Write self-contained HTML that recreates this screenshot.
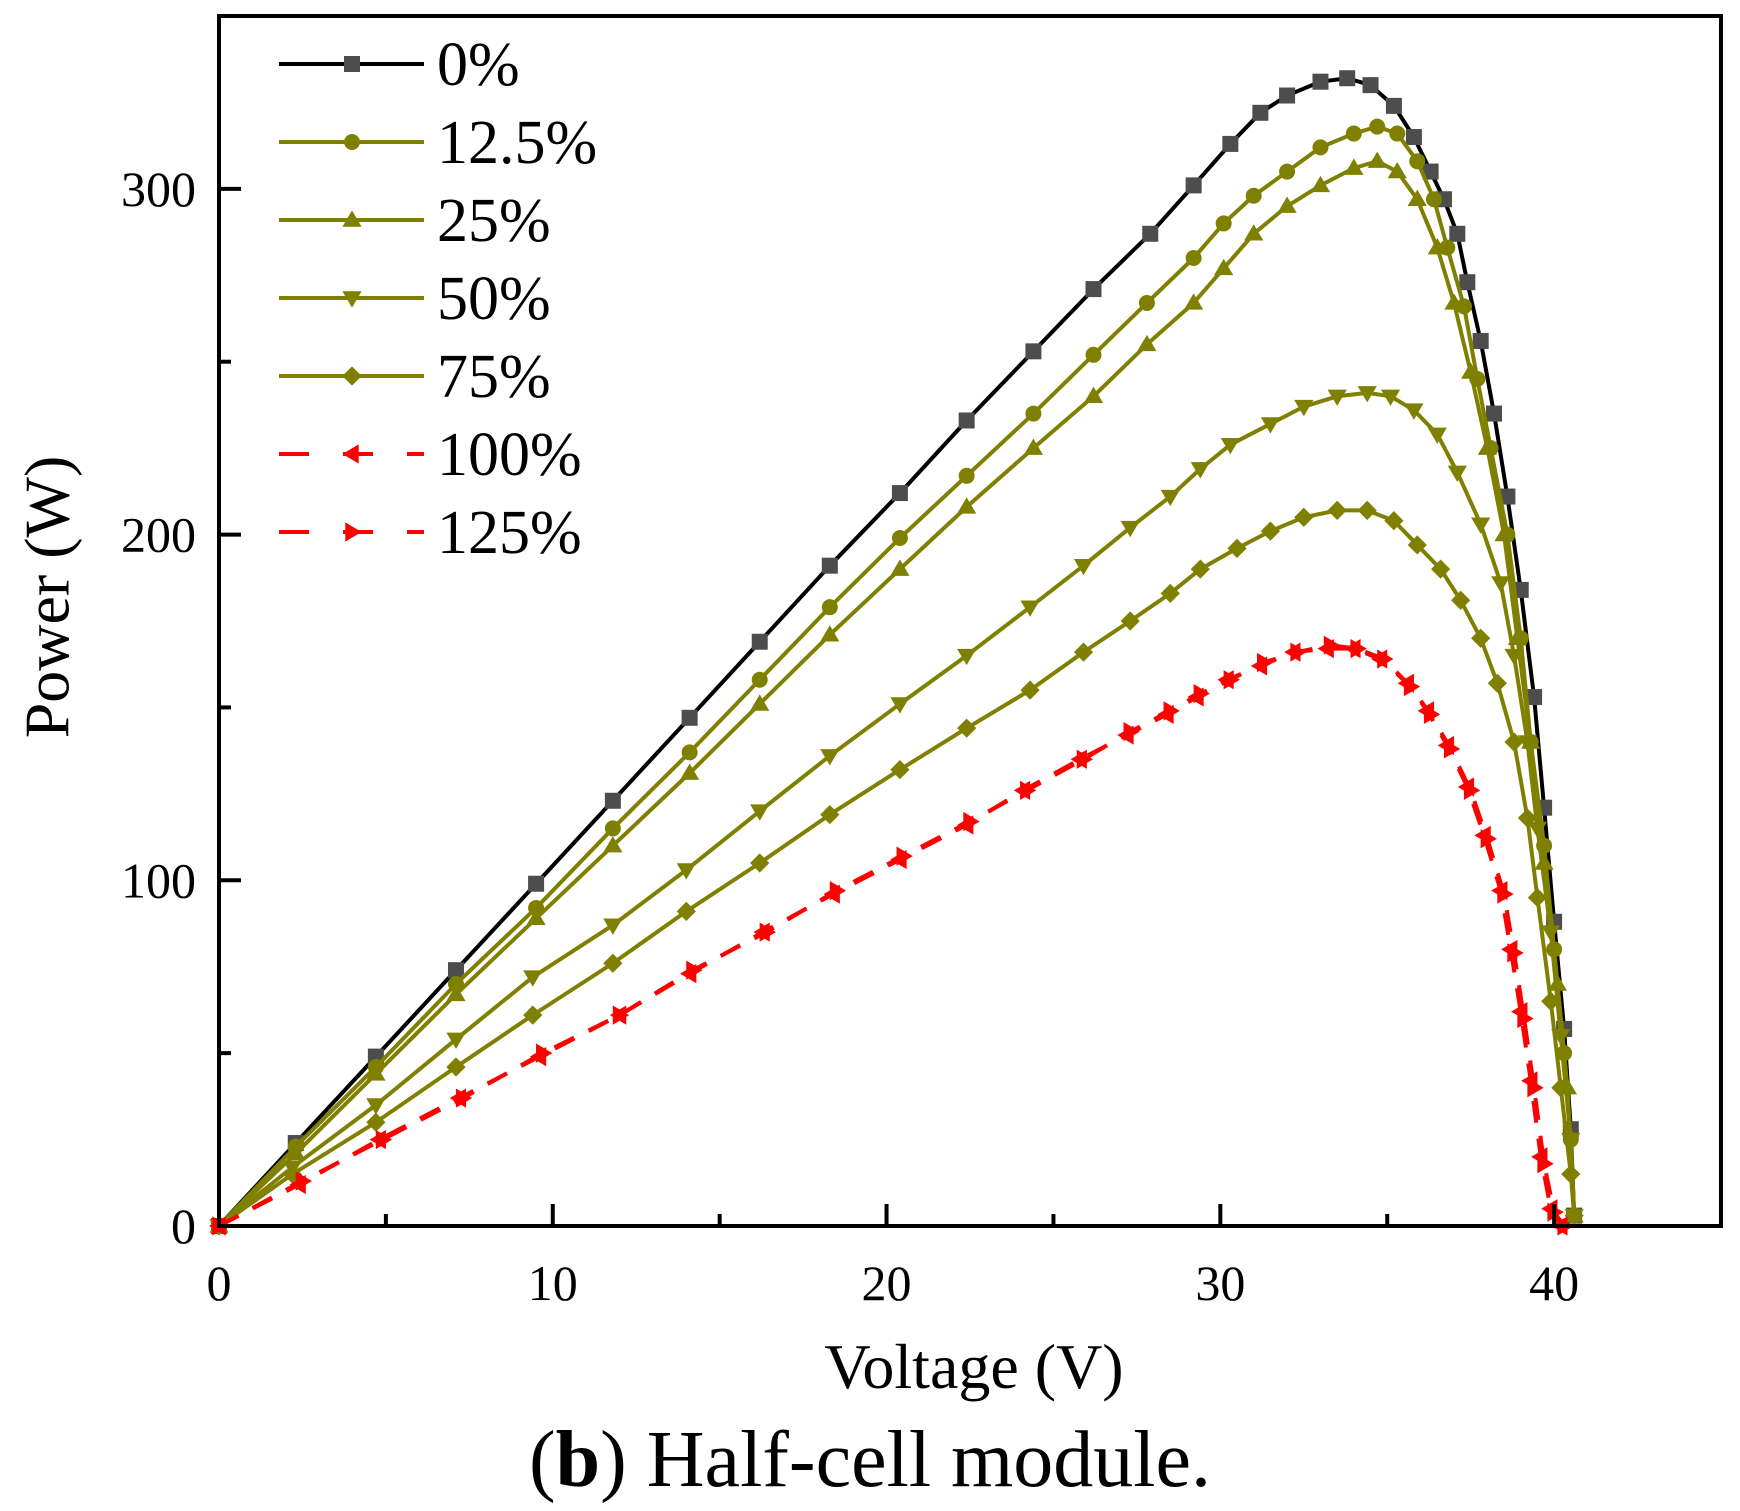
<!DOCTYPE html>
<html><head><meta charset="utf-8"><style>
body{margin:0;background:#fff}
svg{display:block}
text{font-family:"Liberation Serif",serif;fill:#000}
</style></head><body>
<svg id="c" width="1740" height="1511" viewBox="0 0 1740 1511">
<g id="plot"></g>
<g id="axes"></g>
<g id="legend"></g>
<text x="47" y="597" font-size="64" text-anchor="middle" dominant-baseline="central" transform="rotate(-90 47 597)">Power (W)</text>
<text x="974" y="1388" font-size="64" text-anchor="middle">Voltage (V)</text>
<text x="870" y="1486" font-size="80" text-anchor="middle">(<tspan font-weight="bold">b</tspan>) Half-cell module.</text>
</svg>
<script>
const xTicks=[0,10,20,30,40];
const yTicks=[0,100,200,300];
const seriesNames=["0%","12.5%","25%","50%","75%","100%","125%"];
const s0=[[0,0],[2.3,24],[4.7,49],[7.1,74],[9.5,99],[11.8,123],[14.1,147],[16.2,169],[18.3,191],[20.4,212],[22.4,233],[24.4,253],[26.2,271],[27.9,287],[29.2,301],[30.3,313],[31.2,322],[32,327],[33,331],[33.8,332],[34.5,330],[35.2,324],[35.8,315],[36.3,305],[36.7,297],[37.1,287],[37.4,273],[37.8,256],[38.2,235],[38.6,211],[39,184],[39.4,153],[39.7,121],[40.0,88],[40.3,57],[40.5,28],[40.6,3]];
const s125=[[0,0],[2.3,23],[4.7,46],[7.1,70],[9.5,92],[11.8,115],[14.1,137],[16.2,158],[18.3,179],[20.4,199],[22.4,217],[24.4,235],[26.2,252],[27.8,267],[29.2,280],[30.1,290],[31,298],[32,305],[33,312],[34,316],[34.7,318],[35.3,316],[35.9,308],[36.4,297],[36.8,283],[37.3,266],[37.7,245],[38.1,225],[38.6,200],[39,170],[39.3,140],[39.7,110],[40,80],[40.3,50],[40.5,25],[40.6,3]];
const s25=[[0,0],[2.3,21],[4.7,44],[7.1,67],[9.5,89],[11.8,110],[14.1,131],[16.2,151],[18.3,171],[20.4,190],[22.4,208],[24.4,225],[26.2,240],[27.8,255],[29.2,267],[30.1,277],[31,287],[32,295],[33,301],[34,306],[34.7,308],[35.3,305],[35.9,297],[36.5,283],[37,267],[37.5,247],[38,225],[38.5,200],[38.9,170],[39.3,140],[39.7,105],[40.1,70],[40.4,40],[40.6,3]];
const s50=[[0,0],[2.2,17],[4.7,35],[7.1,54],[9.4,72],[11.8,87],[14.0,103],[16.2,120],[18.3,136],[20.4,151],[22.4,165],[24.3,179],[25.9,191],[27.3,202],[28.5,211],[29.4,219],[30.3,226],[31.5,232],[32.5,237],[33.5,240],[34.4,241],[35.1,240],[35.8,236],[36.5,229],[37.1,218],[37.8,203],[38.4,186],[38.8,165],[39.2,140],[39.5,115],[39.9,85],[40.2,55],[40.5,25],[40.6,3]];
const s75=[[0,0],[2.2,15],[4.7,30],[7.1,46],[9.4,61],[11.8,76],[14.0,91],[16.2,105],[18.3,119],[20.4,132],[22.4,144],[24.3,155],[25.9,166],[27.3,175],[28.5,183],[29.4,190],[30.5,196],[31.5,201],[32.5,205],[33.5,207],[34.4,207],[35.2,204],[35.9,197],[36.6,190],[37.2,181],[37.8,170],[38.3,157],[38.8,140],[39.2,118],[39.5,95],[39.9,65],[40.2,40],[40.5,15],[40.6,3]];
const s100=[[0,0],[2.4,12],[4.8,25],[7.2,37],[9.6,49],[12,61],[14.1,73],[16.3,85],[18.4,96],[20.4,106],[22.4,116],[24.1,126],[25.8,135],[27.2,142],[28.4,148],[29.3,153],[30.2,158],[31.2,162],[32.2,166],[33.2,167],[34.0,167],[34.8,164],[35.6,157],[36.2,149],[36.8,139],[37.4,127],[37.9,113],[38.4,97],[38.7,80],[39.0,62],[39.3,42],[39.6,20],[39.9,5],[40.2,0]];
const s125b=[[0,0],[2.5,13],[4.9,25],[7.3,37],[9.7,50],[12,61],[14.2,74],[16.4,85],[18.5,97],[20.5,107],[22.5,117],[24.2,126],[25.9,135],[27.3,143],[28.5,149],[29.4,154],[30.3,158],[31.3,163],[32.3,166],[33.3,168],[34.1,167],[34.9,164],[35.7,156],[36.3,148],[36.9,138],[37.5,126],[38.0,112],[38.5,96],[38.8,79],[39.1,60],[39.4,40],[39.7,18],[40.0,4],[40.3,0]];

const X0=219,X1=1721,Y0=1226,Y1=16,XMAX=45,YMAX=350;
const sx=v=>X0+(X1-X0)*v/XMAX, sy=v=>Y0-(Y0-Y1)*v/YMAX;
const NS="http://www.w3.org/2000/svg";
function mk(t,a,p){const e=document.createElementNS(NS,t);for(const k in a)e.setAttribute(k,a[k]);p.appendChild(e);return e;}
const plot=document.getElementById('plot'),axes=document.getElementById('axes'),legend=document.getElementById('legend');
const OL="#808000";
const cfg=[[s0,"#000","#4d4d4d","sq",false],[s125,OL,OL,"ci",false],[s25,OL,OL,"tu",false],[s50,OL,OL,"td",false],[s75,OL,OL,"di",false],[s100,"#ff0000","#ff0000","tl",true],[s125b,"#ff0000","#ff0000","tr",true]];
function marker(type,x,y,c,p){const r=8;let e;
 if(type==="sq")e=mk('rect',{x:x-r,y:y-r,width:2*r,height:2*r,fill:c},p);
 else if(type==="ci")e=mk('circle',{cx:x,cy:y,r:r,fill:c},p);
 else{let pts;const k=r*1.2;
  if(type==="tu")pts=[[x,y-k],[x+k,y+k*0.7],[x-k,y+k*0.7]];
  if(type==="td")pts=[[x,y+k],[x+k,y-k*0.7],[x-k,y-k*0.7]];
  if(type==="di")pts=[[x,y-k],[x+k,y],[x,y+k],[x-k,y]];
  if(type==="tl")pts=[[x-k,y],[x+k*0.7,y-k],[x+k*0.7,y+k]];
  if(type==="tr")pts=[[x+k,y],[x-k*0.7,y-k],[x-k*0.7,y+k]];
  e=mk('polygon',{points:pts.map(q=>q.join(',')).join(' '),fill:c},p);}
 return e;}
cfg.forEach((c,i)=>{
 const g=mk('g',{},plot);
 
 
 const pl=mk('polyline',{points:c[0].map(d=>sx(d[0])+','+sy(d[1])).join(' '),fill:'none',stroke:c[1],'stroke-width':4,'stroke-linejoin':'round'},g);
 if(c[4])pl.setAttribute('stroke-dasharray','22 16');
 
 
 c[0].forEach(d=>{const m=marker(c[3],sx(d[0]),sy(d[1]),c[2],g);
  
  });
 const ly=64+i*78.0;
 const lg=mk('g',{},legend);
 
 
 const ll=mk('line',{x1:279,x2:424,y1:ly,y2:ly,stroke:c[1],'stroke-width':4},lg);
 if(c[4])ll.setAttribute('stroke-dasharray','30 34');
 marker(c[3],352,ly,c[2],lg);
 const t=mk('text',{x:437,y:ly+21,'font-size':62},lg);t.textContent=seriesNames[i];
});
const fr=mk('rect',{x:X0,y:Y1,width:X1-X0,height:Y0-Y1,fill:'none',stroke:'#000','stroke-width':4},axes);


for(let v=5;v<XMAX;v+=5){const maj=v%10===0;const t=mk('line',{x1:sx(v),x2:sx(v),y1:Y0,y2:Y0-(maj?22:12),stroke:'#000','stroke-width':4},axes);
 
 }
for(let v=50;v<YMAX;v+=50){const maj=v%100===0;const t=mk('line',{x1:X0,x2:X0+(maj?22:12),y1:sy(v),y2:sy(v),stroke:'#000','stroke-width':4},axes);
 
 }
xTicks.forEach(v=>{const t=mk('text',{x:sx(v),y:1300,'font-size':50,'text-anchor':'middle'},axes);t.textContent=v;
 
 });
yTicks.forEach(v=>{const t=mk('text',{x:196,y:sy(v)+17,'font-size':50,'text-anchor':'end'},axes);t.textContent=v;
 
 });
</script>
</body></html>
